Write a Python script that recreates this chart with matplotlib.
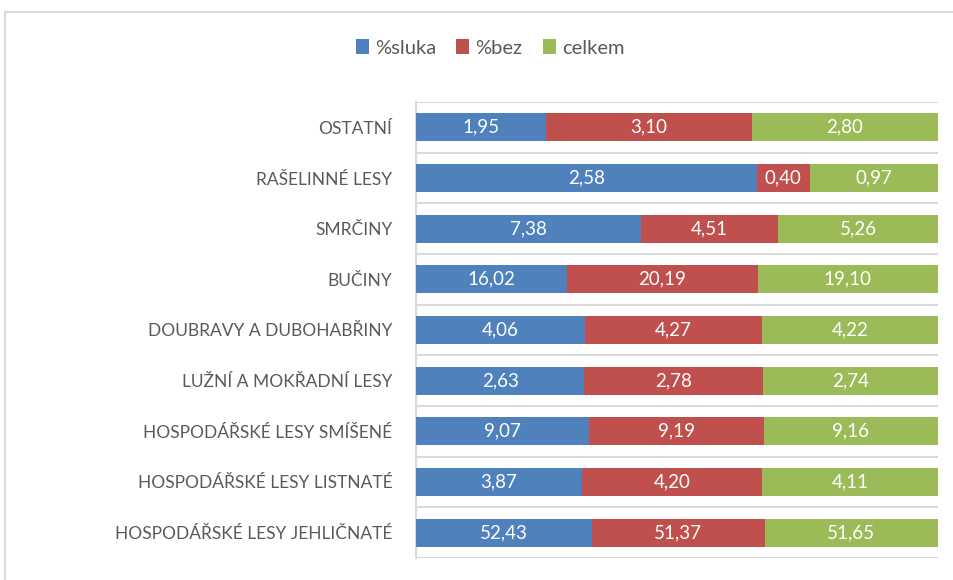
import matplotlib
matplotlib.use("Agg")
import matplotlib.pyplot as plt
from matplotlib.patches import Rectangle, Patch
import numpy as np

plt.rcParams['font.family'] = ['Lato', 'DejaVu Sans']

categories = [
    "HOSPODÁŘSKÉ LESY JEHLIČNATÉ",
    "HOSPODÁŘSKÉ LESY LISTNATÉ",
    "HOSPODÁŘSKÉ LESY SMÍŠENÉ",
    "LUŽNÍ A MOKŘADNÍ LESY",
    "DOUBRAVY A DUBOHABŘINY",
    "BUČINY",
    "SMRČINY",
    "RAŠELINNÉ LESY",
    "OSTATNÍ",
]
sluka = [52.43, 3.87, 9.07, 2.63, 4.06, 16.02, 7.38, 2.58, 1.95]
bez = [51.37, 4.20, 9.19, 2.78, 4.27, 20.19, 4.51, 0.40, 3.10]
celkem = [51.65, 4.11, 9.16, 2.74, 4.22, 19.10, 5.26, 0.97, 2.80]
series_names = ["%sluka", "%bez", "celkem"]
colors = ["#4F81BD", "#C0504D", "#9BBB59"]

W, H = 954, 580
fig = plt.figure(figsize=(W / 100, H / 100), dpi=100)
fig.patch.set_facecolor("white")

# outer chart frame
fig.add_artist(Rectangle((5 / W, -0.1), 1.2, 1 - 12 / H + 0.1, transform=fig.transFigure,
                         fill=False, edgecolor="#d9d9d9", linewidth=1.5))

ax = fig.add_axes([416 / W, 1 - 558 / H, (938 - 416) / W, (558 - 102) / H])

data = np.array([sluka, bez, celkem])
totals = data.sum(axis=0)
pct = data / totals

y = np.arange(len(categories))
left = np.zeros(len(categories))
for i, (name, col) in enumerate(zip(series_names, colors)):
    bars = ax.barh(y, pct[i], left=left, height=0.55, color=col, label=name, zorder=3)
    for j, b in enumerate(bars):
        ax.text(left[j] + pct[i][j] / 2, y[j], f"{data[i][j]:.2f}".replace(".", ","),
                ha="center", va="center", color="white", fontsize=13.5, zorder=4)
    left += pct[i]

ax.set_xlim(0, 1)
ax.set_ylim(-0.5, len(categories) - 0.5)
ax.set_yticks(y)
ax.set_yticklabels(categories, color="#595959", fontsize=12.5)
ax.tick_params(axis="y", length=0, pad=17)
ax.set_xticks([])
for s in ["top", "right", "bottom"]:
    ax.spines[s].set_visible(False)
ax.spines["left"].set_color("#d9d9d9")
ax.spines["left"].set_linewidth(1.5)
for b in np.arange(-0.5, len(categories), 1.0):
    ax.axhline(b, color="#d9d9d9", linewidth=1.5, zorder=1)

handles = [Patch(facecolor=c, label=n) for n, c in zip(series_names, colors)]
leg = fig.legend(handles=handles, loc="center", bbox_to_anchor=(490 / W, 1 - 48 / H), ncol=3,
                 frameon=False, fontsize=14.5, handlelength=0.65, handleheight=0.75,
                 handletextpad=0.3, columnspacing=1.0)
for t in leg.get_texts():
    t.set_color("#595959")

fig.savefig("out.png", dpi=100)
